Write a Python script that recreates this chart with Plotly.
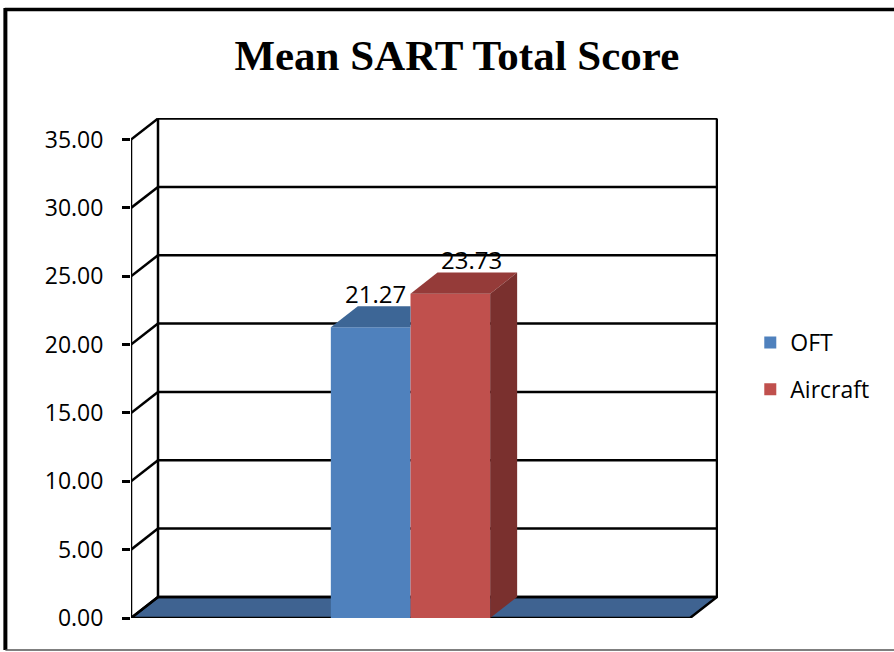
import plotly.graph_objects as go

# data
series = ["OFT", "Aircraft"]
values = [21.27, 23.73]
front_colors = ["#4F81BD", "#C0504D"]
top_colors = ["#3D6696", "#953B39"]
side_colors = ["#345785", "#7A302E"]
y_ticks = [0, 5, 10, 15, 20, 25, 30, 35]

# 3d look: depth offset of the back wall, in axis units
dx = 0.0483
dy = 1.54
ymax = 35
bargap = 0.715
bar_w = (1 - bargap) / len(series)
label_xshift = [-3, 13]  # excel puts the labels a bit unevenly

fig = go.Figure()

for i, (name, v) in enumerate(zip(series, values)):
    fig.add_trace(go.Bar(x=[0], y=[v], name=name, marker_color=front_colors[i],
                         marker_line_width=0, legendgroup=name, showlegend=True))

# top and side faces, computed from the bar values
for i, v in enumerate(values):
    x0 = -(1 - bargap) / 2 + i * bar_w
    x1 = x0 + bar_w
    hidden = i + 1 < len(values) and values[i + 1] >= v + dy
    if hidden:
        tx = [x0, x1, x1, x0 + dx, x0]
    else:
        tx = [x0, x1, x1 + dx, x0 + dx, x0]
    ty = [v, v, v + dy, v + dy, v]
    fig.add_trace(go.Scatter(x=tx, y=ty, fill="toself", fillcolor=top_colors[i], mode="lines",
                             line_width=0, showlegend=False, hoverinfo="skip"))
    if not hidden:
        fig.add_trace(go.Scatter(x=[x1, x1 + dx, x1 + dx, x1, x1], y=[0, dy, v + dy, v, 0],
                                 fill="toself", fillcolor=side_colors[i], mode="lines",
                                 line_width=0, showlegend=False, hoverinfo="skip"))
    fig.add_annotation(x=(x0 + x1) / 2 + dx / 2 - 0.01, y=v + dy, text=f"{v:.2f}", showarrow=False,
                       yanchor="middle", yshift=13, xshift=label_xshift[i],
                       font=dict(size=24, color="black"))

blk = dict(color="black", width=2.5)
shapes = []
# floor
shapes.append(dict(type="path", path=f"M -0.5,0 L 0.5,0 L {0.5 + dx},{dy} L {-0.5 + dx},{dy} Z",
                   fillcolor="#3F6391", line=blk, layer="below"))
# back wall gridlines + diagonals
for t in y_ticks:
    shapes.append(dict(type="line", x0=-0.5 + dx, x1=0.5 + dx, y0=t + dy, y1=t + dy, line=blk, layer="below"))
    shapes.append(dict(type="line", x0=-0.5, x1=-0.5 + dx, y0=t, y1=t + dy, line=blk, layer="below"))
shapes.append(dict(type="line", x0=-0.5 + dx, x1=-0.5 + dx, y0=dy, y1=ymax + dy, line=blk, layer="below"))
shapes.append(dict(type="line", x0=0.5 + dx, x1=0.5 + dx, y0=dy, y1=ymax + dy, line=blk, layer="below"))
# front axis
shapes.append(dict(type="line", x0=-0.5, x1=-0.5, y0=0, y1=ymax, line=blk, layer="below"))
# outer frame
shapes.append(dict(type="line", xref="paper", yref="paper", x0=-0.215, x1=1.3, y0=1.217, y1=1.217,
                   line=dict(color="black", width=3.5)))
shapes.append(dict(type="line", xref="paper", yref="paper", x0=-0.214, x1=-0.214, y0=1.22, y1=-0.064,
                   line=dict(color="black", width=4)))
shapes.append(dict(type="line", xref="paper", yref="paper", x0=-0.214, x1=1.3, y0=-0.064, y1=-0.064,
                   line=dict(color="#555555", width=1.5)))

fig.update_layout(
    width=894, height=652, autosize=False,
    margin=dict(l=131, r=176, t=118, b=34),
    paper_bgcolor="white", plot_bgcolor="white",
    barmode="group", bargap=bargap,
    shapes=shapes,
    title=dict(text="<b>Mean SART Total Score</b>", x=0.511, xanchor="center", y=0.916, yanchor="middle",
               font=dict(family="Liberation Serif", size=43, color="black")),
    font=dict(family="Open Sans", size=23, color="black"),
    legend=dict(x=1.055, y=0.504, xanchor="left", yanchor="middle", tracegroupgap=14,
                font=dict(size=23), itemwidth=30),
    showlegend=True,
)
fig.update_xaxes(range=[-0.5, 0.5 + 0.0501], showgrid=False, zeroline=False, showticklabels=False,
                 ticks="", showline=False)
fig.update_yaxes(range=[0, ymax + 1.58], tickvals=y_ticks, tickformat=".2f", showgrid=False,
                 zeroline=False, ticks="outside", ticklen=8, tickwidth=2.5, tickcolor="black",
                 showline=False, tickfont=dict(size=23), ticklabelstandoff=14)

fig.write_html("out.html", config={"displayModeBar": False},
               post_script="document.body.style.margin='0';")
